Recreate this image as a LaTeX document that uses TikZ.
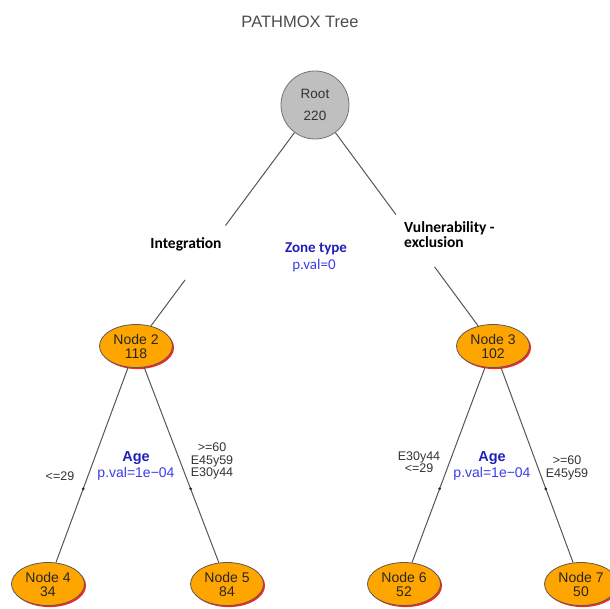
\documentclass[tikz,border=0pt]{standalone}
\usepackage{fontspec}
\setmainfont{Liberation Sans}
\newfontfamily\calib{Carlito}
\usetikzlibrary{shapes.geometric,shadows,calc}
\definecolor{nodeorange}{HTML}{FFA500}
\definecolor{edgegray}{HTML}{555555}
\definecolor{lblue}{HTML}{3C3CE8}
\definecolor{dblue}{HTML}{2020B8}
\begin{document}
\begin{tikzpicture}[x=1pt,y=-1pt,
  treenode/.style={ellipse, draw=black!65, line width=0.8pt, fill=nodeorange,
    minimum width=73pt, minimum height=43pt, inner sep=0pt, align=center,
    text=black!85, font=\fontsize{14}{14}\selectfont,
    drop shadow={shadow xshift=1.6pt, shadow yshift=-1.6pt, fill=red, opacity=0.85}},
  rootnode/.style={circle, draw=black!55, line width=0.8pt, fill=black!25,
    minimum size=68pt, inner sep=0pt, align=center, text=black!80,
    font=\fontsize{13.5}{22}\selectfont},
  edge/.style={draw=edgegray, line width=1pt},
  split/.style={text=dblue, font=\bfseries\fontsize{14.5}{14.5}\selectfont, inner sep=0pt},
  pval/.style={text=lblue, font=\fontsize{14}{14}\selectfont, inner sep=0pt},
  zsplit/.style={text=dblue, font=\calib\bfseries\fontsize{15}{15}\selectfont, inner sep=0pt},
  zpval/.style={text=lblue, font=\calib\fontsize{15}{15}\selectfont, inner sep=0pt},
  cat/.style={text=black!80, align=center, font=\fontsize{12.5}{12.4}\selectfont, inner sep=0pt},
  lbl/.style={font=\calib\bfseries\fontsize{15.5}{15}\selectfont, text=black, align=left, inner sep=0pt},
  dotmark/.style={fill=black!85}
]
\useasboundingbox (0,0) rectangle (610,608);

\node[text=black!70, font=\fontsize{16.5}{18}\selectfont] (title) at (300,22) {PATHMOX Tree};

\node[rootnode] (root) at (315,105) {Root\\220};
\node[treenode] (n2) at (136,346) {Node 2\\118};
\node[treenode] (n3) at (493,346) {Node 3\\102};
\node[treenode] (n4) at (48,584) {Node 4\\34};
\node[treenode] (n5) at (227,584) {Node 5\\84};
\node[treenode] (n6) at (404,584) {Node 6\\52};
\node[treenode] (n7) at (581,584) {Node 7\\50};

% root edges, interrupted by the labels
\coordinate (ra) at ($(root.center)!0.5!(n2.center)$);
\coordinate (rb) at ($(root.center)!0.726!(n2.center)$);
\coordinate (rc) at ($(root.center)!0.455!(n3.center)$);
\coordinate (rd) at ($(root.center)!0.672!(n3.center)$);
\draw[edge] (root) -- (ra);
\draw[edge] (rb) -- (n2);
\draw[edge] (root) -- (rc);
\draw[edge] (rd) -- (n3);

% lower edges
\draw[edge] (n2) -- (n4);
\draw[edge] (n2) -- (n5);
\draw[edge] (n3) -- (n6);
\draw[edge] (n3) -- (n7);
\fill[dotmark] ($(n2.center)!0.6!(n4.center)$) circle (1.5);
\fill[dotmark] ($(n2.center)!0.6!(n5.center)$) circle (1.5);
\fill[dotmark] ($(n3.center)!0.6!(n6.center)$) circle (1.5);
\fill[dotmark] ($(n3.center)!0.6!(n7.center)$) circle (1.5);

% first split labels
\node[lbl] (integ) at (186,244) {Integration};
\node[lbl, anchor=north west] (vuln) at (404,221) {Vulnerability -\\exclusion};
\node[zsplit] (zt) at (316,249) {Zone type};
\node[zpval] (pv0) at (314,265) {p.val=0};

% left split labels
\node[split] (age1) at (136,458) {Age};
\node[pval] (pv1) at (136,474) {p.val=1e−04};
\node[cat] (c4) at (60,476) {<=29};
\node[cat] (c5) at (212,461) {>=60\\E45y59\\E30y44};

% right split labels
\node[split] (age2) at (492,458) {Age};
\node[pval] (pv2) at (492,474) {p.val=1e−04};
\node[cat] (c6) at (419,462) {E30y44\\<=29};
\node[cat] (c7) at (567,468) {>=60\\E45y59};
\end{tikzpicture}
\end{document}
